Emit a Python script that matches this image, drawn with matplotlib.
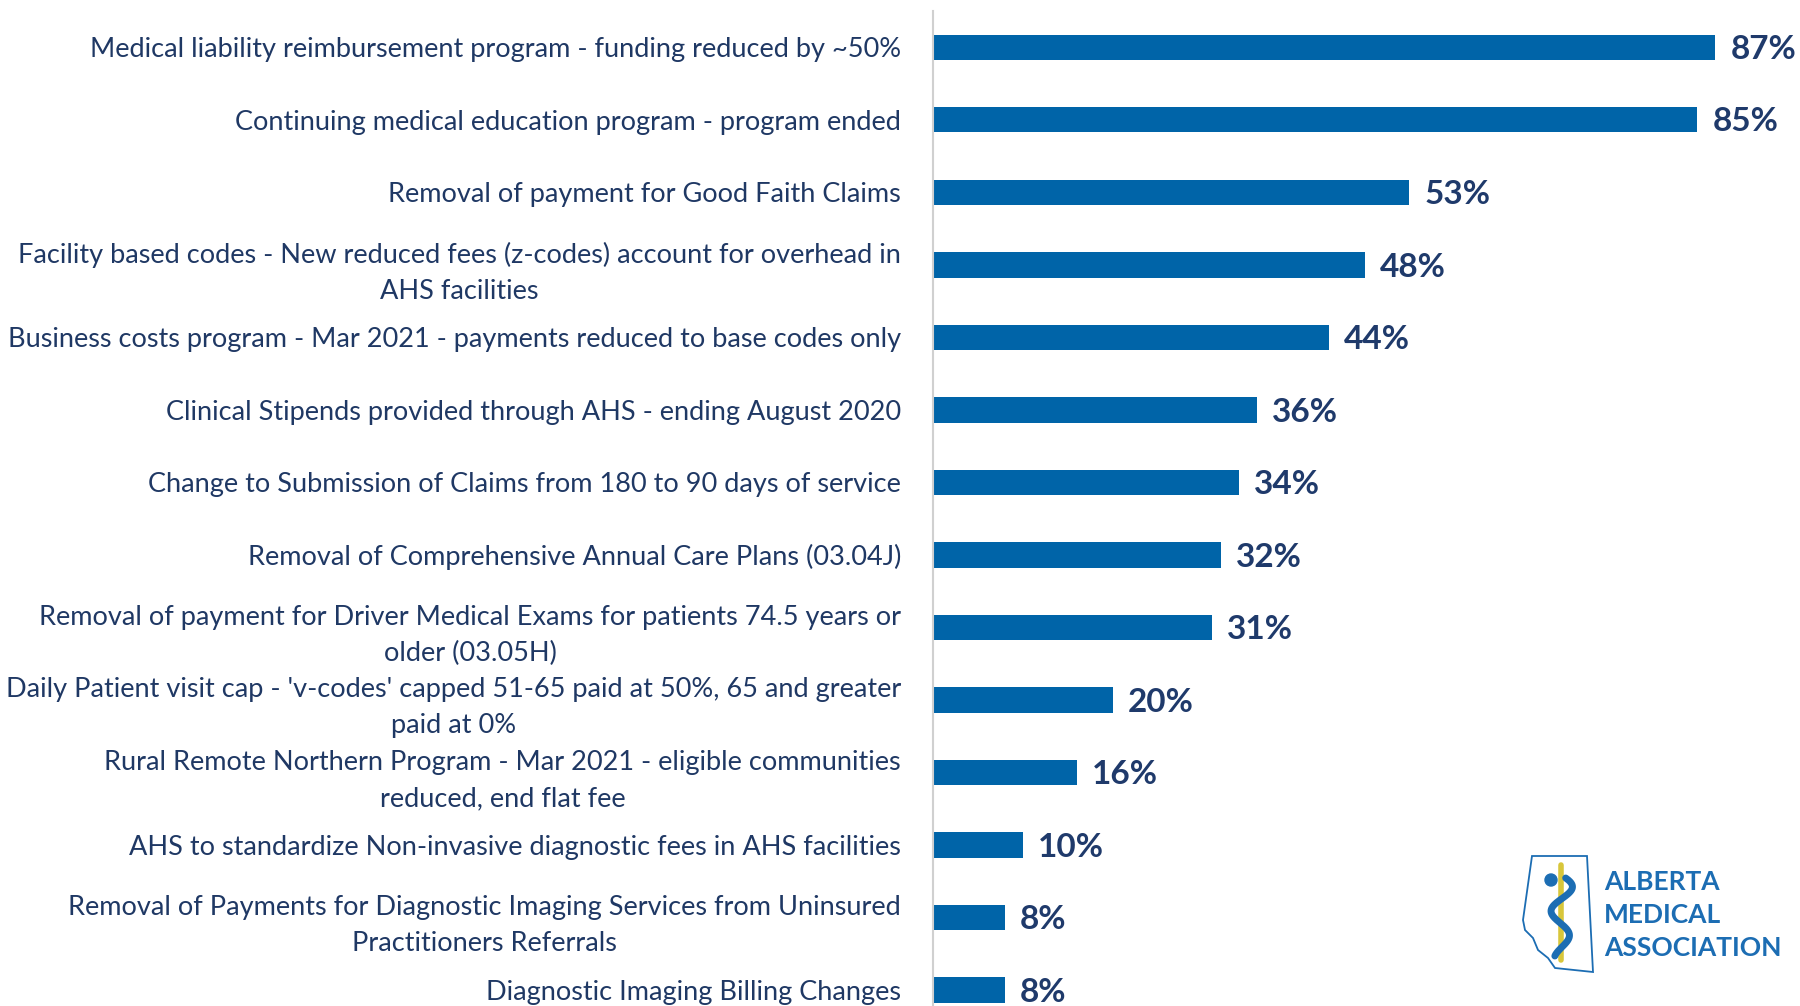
import numpy as np
import matplotlib.pyplot as plt
from matplotlib.patches import Polygon

## Data
labels = [
    "Medical liability reimbursement program - funding reduced by ~50%",
    "Continuing medical education program - program ended",
    "Removal of payment for Good Faith Claims",
    "Facility based codes - New reduced fees (z-codes) account for overhead in\nAHS facilities",
    "Business costs program - Mar 2021 - payments reduced to base codes only",
    "Clinical Stipends provided through AHS - ending August 2020",
    "Change to Submission of Claims from 180 to 90 days of service",
    "Removal of Comprehensive Annual Care Plans (03.04J)",
    "Removal of payment for Driver Medical Exams for patients 74.5 years or\nolder (03.05H)",
    "Daily Patient visit cap - 'v-codes' capped 51-65 paid at 50%, 65 and greater\npaid at 0%",
    "Rural Remote Northern Program - Mar 2021 - eligible communities\nreduced, end flat fee",
    "AHS to standardize Non-invasive diagnostic fees in AHS facilities",
    "Removal of Payments for Diagnostic Imaging Services from Uninsured\nPractitioners Referrals",
    "Diagnostic Imaging Billing Changes",
]
values = [87, 85, 53, 48, 44, 36, 34, 32, 31, 20, 16, 10, 8, 8]

bar_color = "#0064A8"
text_color = "#1F3864"
value_color = "#1F3A6B"
logo_blue = "#1C6DB3"

W, H = 1800, 1006
fig = plt.figure(figsize=(W / 100, H / 100), dpi=100)
fig.patch.set_facecolor("white")

# main axes
ax = fig.add_axes([933 / W, 0, 863 / W, (H - 11) / H])
y = np.arange(len(values))
ax.barh(y, values, height=0.35, color=bar_color)
ax.set_xlim(0, 96)
ax.set_ylim(13.22, -0.5)

for i, v in enumerate(values):
    ax.text(v + 1.7, i + 0.03, f"{v}%", va="center", ha="left", fontsize=24,
            fontweight="bold", color=value_color, family="Lato")

ax.set_yticks(y)
ax.set_yticklabels(labels, fontsize=19.5, color=text_color, family="Lato",
                   multialignment="center", linespacing=1.55)
ax.tick_params(axis="y", length=0, pad=23)
ax.tick_params(axis="x", bottom=False, labelbottom=False)
for s in ["top", "right", "bottom"]:
    ax.spines[s].set_visible(False)
ax.spines["left"].set_color("#D0D0D0")
ax.spines["left"].set_linewidth(1.5)

# logo (decoration)
lg = fig.add_axes([0, 0, 1, 1], facecolor="none")
lg.set_xlim(0, W)
lg.set_ylim(H, 0)
lg.axis("off")
outline = [(1532, 856), (1587, 856), (1593, 972), (1555, 968), (1548, 958),
           (1538, 950), (1533, 938), (1525, 930), (1523, 920)]
lg.add_patch(Polygon(outline, closed=True, fill=False, edgecolor=logo_blue, lw=1.3))
lg.plot([1561, 1561], [865, 960], color="#D8C63A", lw=4, solid_capstyle="round")
ts = np.linspace(0, 1, 200)
sx = 1561 + 12 * np.sin(ts * 3.2 * np.pi + 0.4) * (1 - 0.4 * ts)
sy = 878 + ts * 78
lg.plot(sx, sy, color=logo_blue, lw=5, solid_capstyle="round")
lg.add_patch(plt.Circle((1551, 880), 6, color=logo_blue))
for k, word in enumerate(["ALBERTA", "MEDICAL", "ASSOCIATION"]):
    lg.text(1604, 882 + 33 * k, word, fontsize=19, fontweight="bold",
            color=logo_blue, family="Lato", va="center", ha="left")

fig.savefig("out.png", dpi=100, facecolor="white")
